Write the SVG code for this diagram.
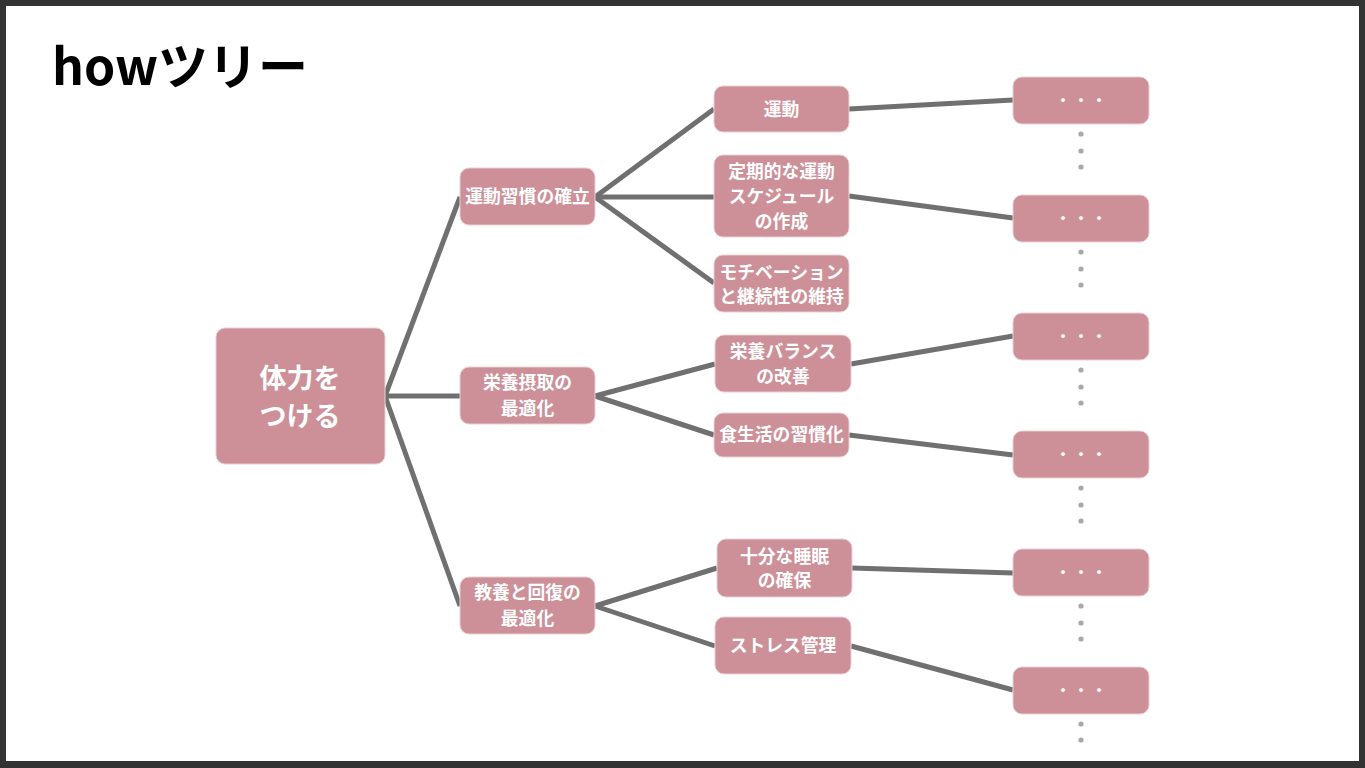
<svg xmlns="http://www.w3.org/2000/svg" width="1365" height="768" viewBox="0 0 1365 768">
<style>
.box{fill:#cd9098;stroke:#e9cfd2;stroke-width:1}
.t{font-family:"Noto Sans CJK JP","Noto Sans",sans-serif;font-weight:bold;fill:#fff;text-anchor:middle;font-size:17.8px}
.root{font-size:27px}
.dots{font-size:18px;font-weight:normal}
.edge{stroke:#707070;stroke-width:5;fill:none;stroke-linecap:butt}
.vd{fill:#a8a8a8}
</style>
<rect x="0" y="0" width="1365" height="768" fill="#333"/>
<rect x="6" y="6" width="1353" height="755" fill="#fff"/>
<text x="52" y="85" font-family="'Noto Sans CJK JP','Noto Sans',sans-serif" font-weight="bold" font-size="50" fill="#000">howツリー</text>
<g id="connectors">
<line class="edge" x1="385" y1="396" x2="460" y2="197"/>
<line class="edge" x1="385" y1="396" x2="460" y2="396"/>
<line class="edge" x1="385" y1="396" x2="460" y2="606"/>
<line class="edge" x1="595" y1="197" x2="714" y2="109"/>
<line class="edge" x1="595" y1="197" x2="714" y2="197"/>
<line class="edge" x1="595" y1="197" x2="714" y2="283"/>
<line class="edge" x1="595" y1="396" x2="715" y2="364"/>
<line class="edge" x1="595" y1="396" x2="714" y2="435"/>
<line class="edge" x1="595" y1="606" x2="717" y2="568"/>
<line class="edge" x1="595" y1="606" x2="715" y2="646"/>
<line class="edge" x1="849" y1="109" x2="1013" y2="100"/>
<line class="edge" x1="849" y1="196" x2="1013" y2="218"/>
<line class="edge" x1="851" y1="364" x2="1013" y2="336"/>
<line class="edge" x1="849" y1="435" x2="1013" y2="455"/>
<line class="edge" x1="852" y1="568" x2="1013" y2="573"/>
<line class="edge" x1="851" y1="646" x2="1013" y2="690"/>
</g>
<g id="root"><rect class="box" x="216" y="328" width="169" height="136" rx="9"/><text class="t root" x="300" y="388">体力を</text><text class="t root" x="300" y="426">つける</text></g>
<g id="n1"><rect class="box" x="460" y="168" width="135" height="57" rx="9"/><text class="t" x="527.5" y="203">運動習慣の確立</text></g>
<g id="n2"><rect class="box" x="460" y="367" width="135" height="57" rx="9"/><text class="t" x="527.5" y="389">栄養摂取の</text><text class="t" x="527.5" y="415">最適化</text></g>
<g id="n3"><rect class="box" x="460" y="577" width="135" height="57" rx="9"/><text class="t" x="527.5" y="599">教養と回復の</text><text class="t" x="527.5" y="625">最適化</text></g>
<g id="n11"><rect class="box" x="714" y="86" width="135" height="46" rx="9"/><text class="t" x="781.5" y="116">運動</text></g>
<g id="n12"><rect class="box" x="714" y="155" width="135" height="82" rx="9"/><text class="t" x="781.5" y="178">定期的な運動</text><text class="t" x="781.5" y="203">スケジュール</text><text class="t" x="781.5" y="228">の作成</text></g>
<g id="n13"><rect class="box" x="714" y="255" width="135" height="57" rx="9"/><text class="t" x="781.5" y="279">モチベーション</text><text class="t" x="781.5" y="303">と継続性の維持</text></g>
<g id="n21"><rect class="box" x="715" y="335" width="136" height="57" rx="9"/><text class="t" x="783" y="358">栄養バランス</text><text class="t" x="783" y="383">の改善</text></g>
<g id="n22"><rect class="box" x="714" y="413" width="135" height="44" rx="9"/><text class="t" x="781.5" y="441">食生活の習慣化</text></g>
<g id="n31"><rect class="box" x="717" y="539" width="135" height="58" rx="9"/><text class="t" x="784.5" y="563">十分な睡眠</text><text class="t" x="784.5" y="587">の確保</text></g>
<g id="n32"><rect class="box" x="715" y="617" width="136" height="57" rx="9"/><text class="t" x="783" y="652">ストレス管理</text></g>
<g id="l1"><rect class="box" x="1013" y="77" width="136" height="47" rx="9"/><text class="t dots" x="1081" y="107">・・・</text><circle class="vd" cx="1081" cy="134" r="2.6"/><circle class="vd" cx="1081" cy="151" r="2.6"/><circle class="vd" cx="1081" cy="167" r="2.6"/></g>
<g id="l2"><rect class="box" x="1013" y="195" width="136" height="47" rx="9"/><text class="t dots" x="1081" y="225">・・・</text><circle class="vd" cx="1081" cy="252" r="2.6"/><circle class="vd" cx="1081" cy="269" r="2.6"/><circle class="vd" cx="1081" cy="285" r="2.6"/></g>
<g id="l3"><rect class="box" x="1013" y="313" width="136" height="47" rx="9"/><text class="t dots" x="1081" y="343">・・・</text><circle class="vd" cx="1081" cy="370" r="2.6"/><circle class="vd" cx="1081" cy="387" r="2.6"/><circle class="vd" cx="1081" cy="403" r="2.6"/></g>
<g id="l4"><rect class="box" x="1013" y="431" width="136" height="47" rx="9"/><text class="t dots" x="1081" y="461">・・・</text><circle class="vd" cx="1081" cy="488" r="2.6"/><circle class="vd" cx="1081" cy="505" r="2.6"/><circle class="vd" cx="1081" cy="521" r="2.6"/></g>
<g id="l5"><rect class="box" x="1013" y="549" width="136" height="47" rx="9"/><text class="t dots" x="1081" y="579">・・・</text><circle class="vd" cx="1081" cy="606" r="2.6"/><circle class="vd" cx="1081" cy="623" r="2.6"/><circle class="vd" cx="1081" cy="639" r="2.6"/></g>
<g id="l6"><rect class="box" x="1013" y="667" width="136" height="47" rx="9"/><text class="t dots" x="1081" y="697">・・・</text><circle class="vd" cx="1081" cy="724" r="2.6"/><circle class="vd" cx="1081" cy="740" r="2.6"/></g>
</svg>
